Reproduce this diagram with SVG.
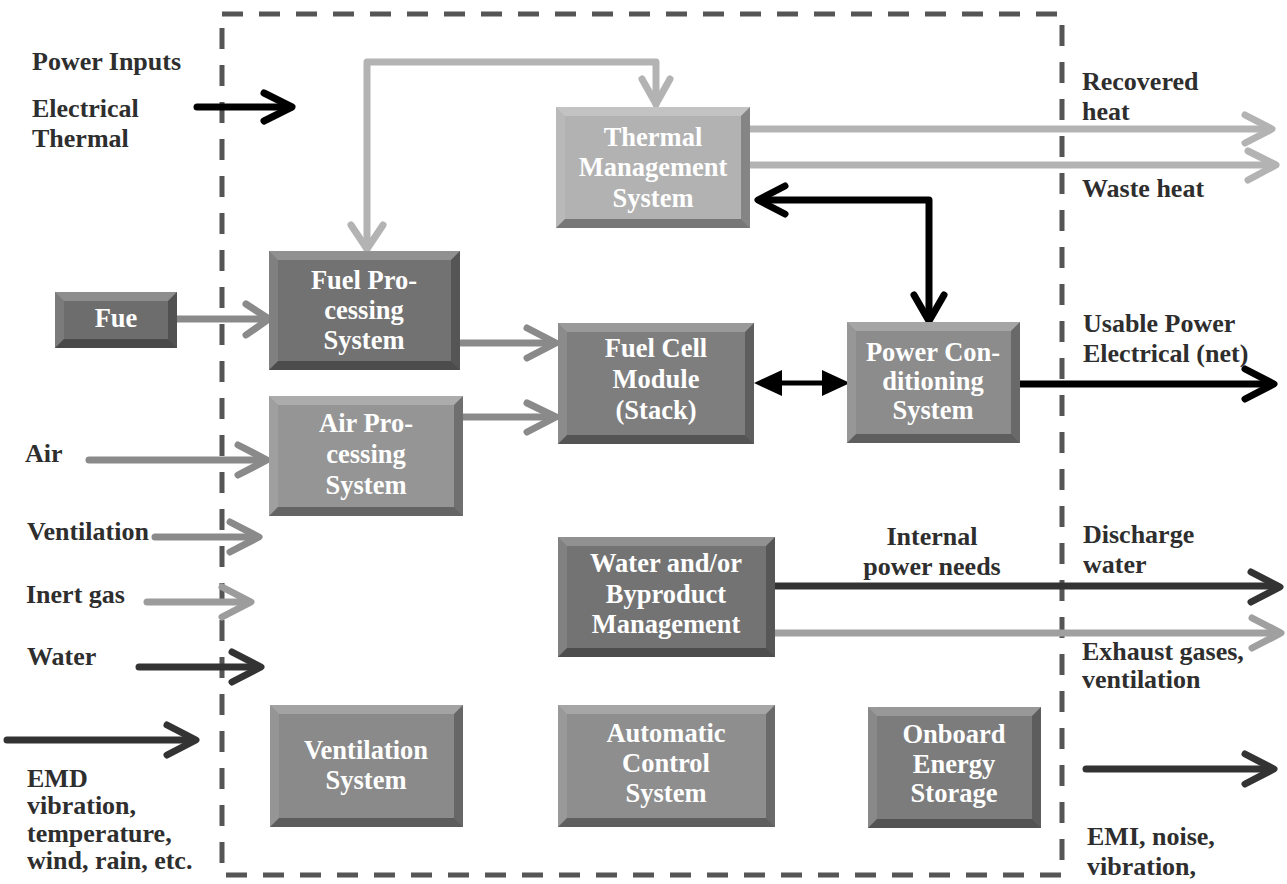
<svg xmlns="http://www.w3.org/2000/svg" width="1287" height="884" viewBox="0 0 1287 884">
<style>
.lbl{font-family:"Liberation Serif","Times New Roman",serif;font-weight:bold;font-size:26px;fill:#2e2e2e}
.bt{font-family:"Liberation Serif","Times New Roman",serif;font-weight:bold;font-size:26.5px;fill:#ffffff;text-anchor:middle}
.hl{fill:#ffffff;fill-opacity:0.22}
.hl2{fill:#ffffff;fill-opacity:0.10}
.sh{fill:#000000;fill-opacity:0.25}
.sh2{fill:#000000;fill-opacity:0.33}
.c{fill:none;stroke-width:7;stroke-linecap:round;stroke-linejoin:round}
.lg{stroke:#b3b3b3}
.mg{stroke:#8a8a8a}
.ig{stroke:#9c9c9c}
.eg{stroke:#a0a0a0}
.dk{stroke:#333333}
.bk{stroke:#000000}
.border{fill:none;stroke:#555555;stroke-width:5;stroke-dasharray:21 16}
</style>

<rect class="border" x="222" y="14" width="840" height="861"/>

<g id="connectors">
  <path class="c bk" d="M197 107 H291" stroke-width="8"/>
  <path class="c bk" d="M264 93 L292 107 L264 121" stroke-width="8"/>
  <path class="c lg" d="M367 249 V62 H656 V104" stroke-linecap="butt" stroke-linejoin="miter"/>
  <path class="c lg" d="M351 225 L367 249 L383 225"/>
  <path class="c lg" d="M642 79 L656 104 L670 79"/>
  <path class="c lg" d="M750 129 H1270" stroke-linecap="butt"/>
  <path class="c lg" d="M1245 115 L1272 129 L1245 143"/>
  <path class="c lg" d="M750 165 H1274" stroke-linecap="butt"/>
  <path class="c lg" d="M1248 151 L1276 165 L1248 180"/>
  <path class="c bk" d="M760 200 H929 V319" stroke-linejoin="miter"/>
  <path class="c bk" d="M785 186 L758 200 L785 214"/>
  <path class="c bk" d="M914 295 L929 321 L944 295"/>
  <path class="c mg" d="M177 319 H267" stroke-linecap="butt"/>
  <path class="c mg" d="M246 304 L269 319 L246 335"/>
  <path class="c mg" d="M461 343 H554" stroke-linecap="butt"/>
  <path class="c mg" d="M527 328 L556 343 L527 358"/>
  <path class="c mg" d="M463 417 H554" stroke-linecap="butt"/>
  <path class="c mg" d="M527 403 L556 417 L527 432"/>
  <path class="c mg" d="M89 460 H265" stroke-linecap="butt"/>
  <path class="c mg" d="M238 445 L267 460 L238 475"/>
  <path class="c mg" d="M155 537 H257" stroke-linecap="butt"/>
  <path class="c mg" d="M230 522 L259 537 L230 552"/>
  <path class="c ig" d="M147 602 H249" stroke-linecap="butt"/>
  <path class="c ig" d="M222 587 L251 602 L222 617"/>
  <path class="c dk" d="M139 667 H259" stroke-linecap="butt"/>
  <path class="c dk" d="M232 652 L261 667 L232 682"/>
  <path class="c dk" d="M7 740 H194" stroke-linecap="butt"/>
  <path class="c dk" d="M167 725 L196 740 L167 755"/>
  <path d="M778 383 H826" stroke="#000" stroke-width="5" fill="none"/>
  <polygon points="754,383 782,370 782,396" fill="#000"/>
  <polygon points="850,383 822,370 822,396" fill="#000"/>
  <path class="c bk" d="M1020 384 H1272" stroke-width="8" stroke-linecap="butt"/>
  <path class="c bk" d="M1245 369 L1274 384 L1245 399" stroke-width="8"/>
  <path class="c dk" d="M775 586 H1277" stroke-linecap="butt"/>
  <path class="c dk" d="M1251 572 L1280 587 L1251 602"/>
  <path class="c eg" d="M775 633 H1278" stroke-linecap="butt"/>
  <path class="c eg" d="M1252 618 L1281 633 L1252 648"/>
  <path class="c dk" d="M1086 769 H1272" stroke-linecap="butt"/>
  <path class="c dk" d="M1245 754 L1274 769 L1245 784"/>
</g>

<g id="thermal-management">
  <rect x="556" y="107" width="194" height="121" fill="#b2b2b2"/>
  <polygon class="hl" points="556,107 750,107 741,116 565,116"/>
  <polygon class="hl2" points="556,107 565,116 565,219 556,228"/>
  <polygon class="sh" points="750,107 750,228 741,219 741,116"/>
  <polygon class="sh2" points="556,228 750,228 741,219 565,219"/>
  <text class="bt" x="653" y="146">Thermal</text>
  <text class="bt" x="653" y="176">Management</text>
  <text class="bt" x="653" y="207">System</text>
</g>

<g id="fuel-processing">
  <rect x="269" y="251" width="191" height="119" fill="#727272"/>
  <polygon class="hl" points="269,251 460,251 451,260 278,260"/>
  <polygon class="hl2" points="269,251 278,260 278,361 269,370"/>
  <polygon class="sh" points="460,251 460,370 451,361 451,260"/>
  <polygon class="sh2" points="269,370 460,370 451,361 278,361"/>
  <text class="bt" x="364" y="289">Fuel Pro-</text>
  <text class="bt" x="364" y="319">cessing</text>
  <text class="bt" x="364" y="349">System</text>
</g>

<g id="fuel">
  <rect x="55" y="292" width="122" height="56" fill="#6d6d6d"/>
  <polygon class="hl" points="55,292 177,292 168,301 64,301"/>
  <polygon class="hl2" points="55,292 64,301 64,339 55,348"/>
  <polygon class="sh" points="177,292 177,348 168,339 168,301"/>
  <polygon class="sh2" points="55,348 177,348 168,339 64,339"/>
  <text class="bt" x="116" y="327">Fue</text>
</g>

<g id="air-processing">
  <rect x="269" y="396" width="194" height="120" fill="#959595"/>
  <polygon class="hl" points="269,396 463,396 454,405 278,405"/>
  <polygon class="hl2" points="269,396 278,405 278,507 269,516"/>
  <polygon class="sh" points="463,396 463,516 454,507 454,405"/>
  <polygon class="sh2" points="269,516 463,516 454,507 278,507"/>
  <text class="bt" x="366" y="432">Air Pro-</text>
  <text class="bt" x="366" y="463">cessing</text>
  <text class="bt" x="366" y="494">System</text>
</g>

<g id="fuel-cell-module">
  <rect x="558" y="323" width="196" height="121" fill="#7e7e7e"/>
  <polygon class="hl" points="558,323 754,323 745,332 567,332"/>
  <polygon class="hl2" points="558,323 567,332 567,435 558,444"/>
  <polygon class="sh" points="754,323 754,444 745,435 745,332"/>
  <polygon class="sh2" points="558,444 754,444 745,435 567,435"/>
  <text class="bt" x="656" y="357">Fuel Cell</text>
  <text class="bt" x="656" y="388">Module</text>
  <text class="bt" x="656" y="419">(Stack)</text>
</g>

<g id="power-conditioning">
  <rect x="847" y="322" width="173" height="121" fill="#8c8c8c"/>
  <polygon class="hl" points="847,322 1020,322 1011,331 856,331"/>
  <polygon class="hl2" points="847,322 856,331 856,434 847,443"/>
  <polygon class="sh" points="1020,322 1020,443 1011,434 1011,331"/>
  <polygon class="sh2" points="847,443 1020,443 1011,434 856,434"/>
  <text class="bt" x="933" y="361">Power Con-</text>
  <text class="bt" x="933" y="390">ditioning</text>
  <text class="bt" x="933" y="419">System</text>
</g>

<g id="water-byproduct">
  <rect x="558" y="537" width="217" height="120" fill="#737373"/>
  <polygon class="hl" points="558,537 775,537 766,546 567,546"/>
  <polygon class="hl2" points="558,537 567,546 567,648 558,657"/>
  <polygon class="sh" points="775,537 775,657 766,648 766,546"/>
  <polygon class="sh2" points="558,657 775,657 766,648 567,648"/>
  <text class="bt" x="666" y="572">Water and/or</text>
  <text class="bt" x="666" y="603">Byproduct</text>
  <text class="bt" x="666" y="633">Management</text>
</g>

<g id="ventilation-system">
  <rect x="270" y="705" width="193" height="122" fill="#8a8a8a"/>
  <polygon class="hl" points="270,705 463,705 454,714 279,714"/>
  <polygon class="hl2" points="270,705 279,714 279,818 270,827"/>
  <polygon class="sh" points="463,705 463,827 454,818 454,714"/>
  <polygon class="sh2" points="270,827 463,827 454,818 279,818"/>
  <text class="bt" x="366" y="759">Ventilation</text>
  <text class="bt" x="366" y="789">System</text>
</g>

<g id="automatic-control">
  <rect x="558" y="705" width="217" height="122" fill="#8e8e8e"/>
  <polygon class="hl" points="558,705 775,705 766,714 567,714"/>
  <polygon class="hl2" points="558,705 567,714 567,818 558,827"/>
  <polygon class="sh" points="775,705 775,827 766,818 766,714"/>
  <polygon class="sh2" points="558,827 775,827 766,818 567,818"/>
  <text class="bt" x="666" y="742">Automatic</text>
  <text class="bt" x="666" y="772">Control</text>
  <text class="bt" x="666" y="802">System</text>
</g>

<g id="onboard-storage">
  <rect x="868" y="707" width="173" height="121" fill="#7c7c7c"/>
  <polygon class="hl" points="868,707 1041,707 1032,716 877,716"/>
  <polygon class="hl2" points="868,707 877,716 877,819 868,828"/>
  <polygon class="sh" points="1041,707 1041,828 1032,819 1032,716"/>
  <polygon class="sh2" points="868,828 1041,828 1032,819 877,819"/>
  <text class="bt" x="954" y="743">Onboard</text>
  <text class="bt" x="954" y="773">Energy</text>
  <text class="bt" x="954" y="802">Storage</text>
</g>

<g id="labels">
  <text class="lbl" x="32" y="70">Power Inputs</text>
  <text class="lbl" x="32" y="117">Electrical</text>
  <text class="lbl" x="32" y="147">Thermal</text>
  <text class="lbl" x="1082" y="90">Recovered</text>
  <text class="lbl" x="1082" y="120">heat</text>
  <text class="lbl" x="1082" y="197">Waste heat</text>
  <text class="lbl" x="1083" y="332">Usable Power</text>
  <text class="lbl" x="1083" y="362">Electrical (net)</text>
  <text class="lbl" x="25" y="462">Air</text>
  <text class="lbl" x="27" y="540">Ventilation</text>
  <text class="lbl" x="26" y="603">Inert gas</text>
  <text class="lbl" x="27" y="665">Water</text>
  <text class="lbl" x="27" y="787">EMD</text>
  <text class="lbl" x="27" y="814">vibration,</text>
  <text class="lbl" x="27" y="842">temperature,</text>
  <text class="lbl" x="27" y="869">wind, rain, etc.</text>
  <text class="lbl" x="932" y="545" text-anchor="middle">Internal</text>
  <text class="lbl" x="932" y="575" text-anchor="middle">power needs</text>
  <text class="lbl" x="1083" y="543">Discharge</text>
  <text class="lbl" x="1083" y="573">water</text>
  <text class="lbl" x="1082" y="660">Exhaust gases,</text>
  <text class="lbl" x="1082" y="688">ventilation</text>
  <text class="lbl" x="1087" y="845">EMI, noise,</text>
  <text class="lbl" x="1087" y="875">vibration,</text>
</g>
</svg>
